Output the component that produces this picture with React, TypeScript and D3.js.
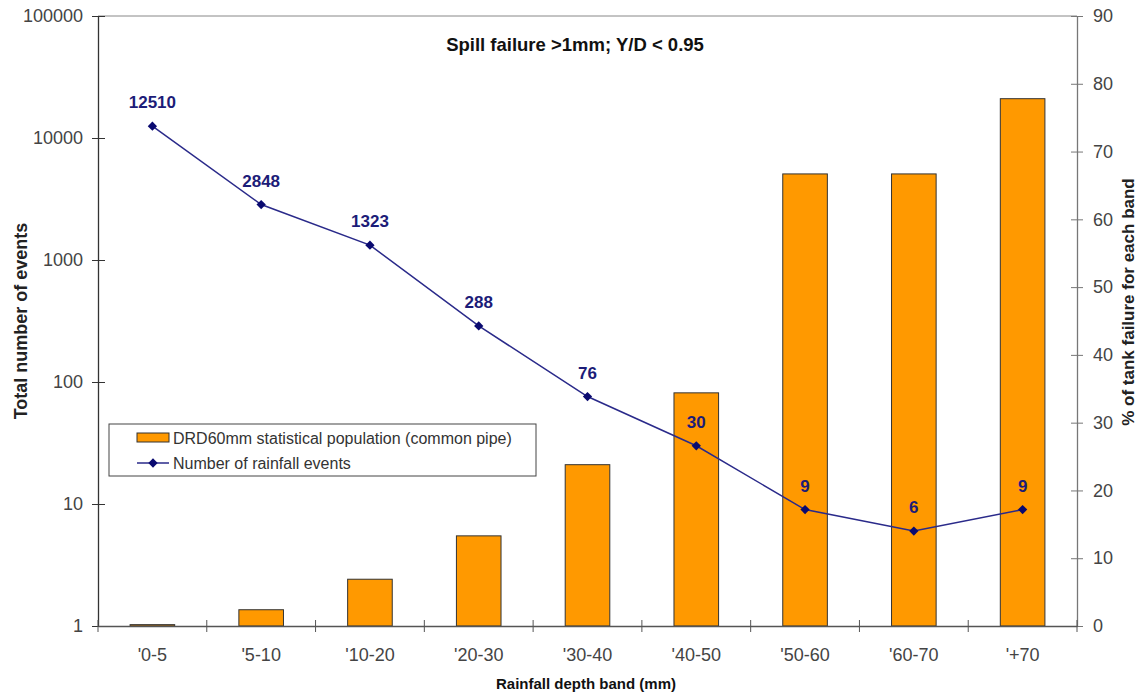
import React, { useRef, useEffect } from 'react';
import * as d3 from 'd3';

const bands = ["'0-5", "'5-10", "'10-20", "'20-30", "'30-40", "'40-50", "'50-60", "'60-70", "'+70"];
const failurePct = [0.2, 2.4, 6.9, 13.3, 23.8, 34.4, 66.7, 66.7, 77.8];
const rainfallEvents = [12510, 2848, 1323, 288, 76, 30, 9, 6, 9];
const leftTicks = [1, 10, 100, 1000, 10000, 100000];
const rightTicks = [0, 10, 20, 30, 40, 50, 60, 70, 80, 90];

const App = () => {
    const svgRef = useRef<SVGSVGElement>(null);

    useEffect(() => {
        if (!svgRef.current) return;
        const left = 98, right = 1077, top = 16, bottom = 626;
        const font = "'Liberation Sans', Arial, sans-serif";

        const svg = d3.select(svgRef.current);
        svg.selectAll("*").remove();

        const x = d3.scaleBand().domain(bands).range([left, right]).paddingInner(0).paddingOuter(0);
        const yLog = d3.scaleLog().domain([1, 100000]).range([bottom, top]);
        const yPct = d3.scaleLinear().domain([0, 90]).range([bottom, top]);

        // top border
        svg.append("line")
            .attr("x1", left).attr("x2", right).attr("y1", top).attr("y2", top)
            .attr("stroke", "#888").attr("stroke-width", 1);

        // bars (right axis)
        const barW = x.bandwidth() * 0.41;
        svg.selectAll(".bar")
            .data(bands)
            .enter().append("rect")
            .attr("class", "bar")
            .attr("x", d => (x(d) as number) + x.bandwidth() / 2 - barW / 2)
            .attr("y", (d, i) => yPct(failurePct[i]))
            .attr("width", barW)
            .attr("height", (d, i) => bottom - yPct(failurePct[i]))
            .attr("fill", "#FF9900")
            .attr("stroke", "#333")
            .attr("stroke-width", 1);

        // left axis
        const la = svg.append("g")
            .attr("transform", `translate(${left},0)`)
            .call(d3.axisLeft(yLog).tickValues(leftTicks).tickFormat(d => String(d)).tickSize(6).tickSizeOuter(0));
        la.select(".domain").attr("stroke", "#333").attr("stroke-width", 1.3);
        la.selectAll(".tick line").attr("stroke", "#333").attr("x2", 7).attr("x1", -6);
        la.selectAll(".tick text").attr("x", -15).attr("fill", "#444")
            .style("font-family", font).style("font-size", "18px");

        // right axis
        const ra = svg.append("g")
            .attr("transform", `translate(${right},0)`)
            .call(d3.axisRight(yPct).tickValues(rightTicks).tickSize(6).tickSizeOuter(0));
        ra.select(".domain").attr("stroke", "#777").attr("stroke-width", 1.3);
        ra.selectAll(".tick line").attr("stroke", "#777").attr("x1", -6).attr("x2", 6);
        ra.selectAll(".tick text").attr("x", 16).attr("fill", "#444")
            .style("font-family", font).style("font-size", "18px");

        // bottom axis
        const ba = svg.append("g")
            .attr("transform", `translate(0,${bottom})`)
            .call(d3.axisBottom(x).tickSize(0).tickSizeOuter(0));
        ba.select(".domain").attr("stroke", "#555").attr("stroke-width", 1.3);
        ba.selectAll(".tick text").attr("y", 22).attr("fill", "#444")
            .style("font-family", font).style("font-size", "18px");
        const sepTicks = bands.map(b => x(b) as number).concat([right]);
        ba.selectAll(".sep")
            .data(sepTicks)
            .enter().append("line")
            .attr("class", "sep")
            .attr("x1", d => d).attr("x2", d => d)
            .attr("y1", -6).attr("y2", 6)
            .attr("stroke", "#555");

        // line (left log axis)
        const pts = bands.map((b, i) => ({ b, v: rainfallEvents[i] }));
        const line = d3.line<{ b: string; v: number }>()
            .x(d => (x(d.b) as number) + x.bandwidth() / 2)
            .y(d => yLog(d.v));
        svg.append("path")
            .datum(pts)
            .attr("d", line)
            .attr("fill", "none")
            .attr("stroke", "#2a2a8a")
            .attr("stroke-width", 1.5);

        const diamond = d3.symbol().type(d3.symbolDiamond2).size(55);
        svg.selectAll(".pt")
            .data(pts)
            .enter().append("path")
            .attr("class", "pt")
            .attr("d", diamond)
            .attr("transform", d => `translate(${(x(d.b) as number) + x.bandwidth() / 2},${yLog(d.v)})`)
            .attr("fill", "#0a0a70");

        svg.selectAll(".lbl")
            .data(pts)
            .enter().append("text")
            .attr("class", "lbl")
            .attr("x", d => (x(d.b) as number) + x.bandwidth() / 2)
            .attr("y", d => yLog(d.v) - 18)
            .attr("text-anchor", "middle")
            .attr("fill", "#1c1c78")
            .style("font-family", font)
            .style("font-size", "17px")
            .style("font-weight", "bold")
            .text(d => String(d.v));

        // title
        svg.append("text")
            .attr("x", 575).attr("y", 51)
            .attr("text-anchor", "middle")
            .attr("fill", "#111")
            .style("font-family", font).style("font-size", "18.5px").style("font-weight", "bold")
            .text("Spill failure >1mm; Y/D < 0.95");

        // axis titles
        svg.append("text")
            .attr("transform", `translate(27,321) rotate(-90)`)
            .attr("text-anchor", "middle")
            .attr("fill", "#222")
            .style("font-family", font).style("font-size", "18px").style("font-weight", "bold")
            .text("Total number of events");
        svg.append("text")
            .attr("transform", `translate(1134,302) rotate(-90)`)
            .attr("text-anchor", "middle")
            .attr("fill", "#222")
            .style("font-family", font).style("font-size", "17px").style("font-weight", "bold")
            .text("% of tank failure for each band");
        svg.append("text")
            .attr("x", 586).attr("y", 689)
            .attr("text-anchor", "middle")
            .attr("fill", "#111")
            .style("font-family", font).style("font-size", "15px").style("font-weight", "bold")
            .text("Rainfall depth band (mm)");

        // legend
        const lg = svg.append("g").attr("transform", "translate(109,424)");
        lg.append("rect").attr("width", 427).attr("height", 52)
            .attr("fill", "#fff").attr("stroke", "#444").attr("stroke-width", 1);
        lg.append("rect").attr("x", 28).attr("y", 9).attr("width", 32).attr("height", 9)
            .attr("fill", "#FF9900").attr("stroke", "#333");
        lg.append("text").attr("x", 64).attr("y", 20)
            .attr("fill", "#333")
            .style("font-family", font).style("font-size", "16px")
            .text("DRD60mm statistical population (common pipe)");
        lg.append("line").attr("x1", 28).attr("x2", 60).attr("y1", 39).attr("y2", 39)
            .attr("stroke", "#2a2a8a").attr("stroke-width", 1.5);
        lg.append("path").attr("d", diamond).attr("transform", "translate(44,39)").attr("fill", "#0a0a70");
        lg.append("text").attr("x", 64).attr("y", 45)
            .attr("fill", "#333")
            .style("font-family", font).style("font-size", "16px")
            .text("Number of rainfall events");
    }, []);

    return (
        <svg ref={svgRef} width={1141} height={693}
            style={{ position: "absolute", left: 0, top: 0, background: "#fff" }} />
    );
};

export default App;
